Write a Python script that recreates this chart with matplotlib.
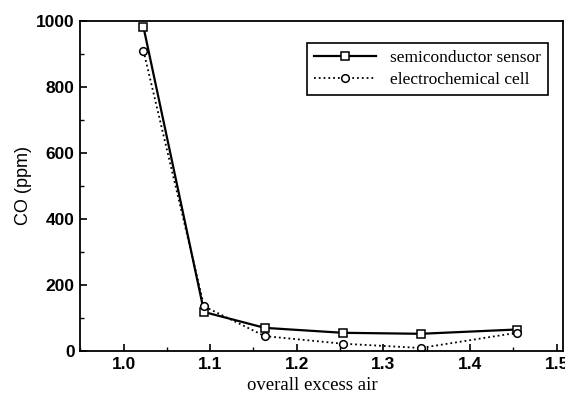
import matplotlib.pyplot as plt
from matplotlib.ticker import MultipleLocator

excess_air = [1.023, 1.093, 1.163, 1.253, 1.343, 1.454]
semiconductor = [982, 118, 70, 55, 52, 65]
electrochemical = [910, 135, 45, 22, 9, 55]

fig = plt.figure(figsize=(5.65, 3.97), dpi=100)
ax = fig.add_axes([0.142, 0.116, 0.854, 0.831])

ax.plot(excess_air, semiconductor, "-", color="black", lw=1.6,
        marker="s", ms=5.5, mfc="white", mec="black", mew=1.1,
        label="semiconductor sensor")
ax.plot(excess_air, electrochemical, ":", color="black", lw=1.3,
        marker="o", ms=5.5, mfc="white", mec="black", mew=1.1,
        label="electrochemical cell")

ax.set_xlim(0.95, 1.507)
ax.set_ylim(0, 1000)
ax.xaxis.set_major_locator(MultipleLocator(0.1))
ax.xaxis.set_minor_locator(MultipleLocator(0.05))
ax.yaxis.set_major_locator(MultipleLocator(200))
ax.yaxis.set_minor_locator(MultipleLocator(100))
ax.tick_params(which="both", direction="in", top=False, right=False)
ax.tick_params(which="major", length=5, width=1.2, pad=4)
ax.tick_params(which="minor", length=3, width=1)
for lab in ax.get_xticklabels() + ax.get_yticklabels():
    lab.set_fontfamily("Liberation Sans")
    lab.set_fontweight("bold")
    lab.set_fontsize(12.5)
for s in ax.spines.values():
    s.set_linewidth(1.3)

ax.set_ylabel("CO (ppm)", fontfamily="Liberation Sans", fontsize=13, labelpad=3)
ax.set_xlabel("overall excess air", fontfamily="Liberation Serif", fontsize=13.5, labelpad=0)
ax.xaxis.set_label_coords(0.48, -0.08)

leg = ax.legend(loc="upper right", bbox_to_anchor=(0.969, 0.933), borderaxespad=0,
                prop={"family": "Liberation Serif", "size": 12.5},
                fancybox=False, edgecolor="black", framealpha=1,
                handlelength=3.6, borderpad=0.4, labelspacing=0.3)
leg.get_frame().set_linewidth(1.2)

fig.savefig("out.png", dpi=100)
